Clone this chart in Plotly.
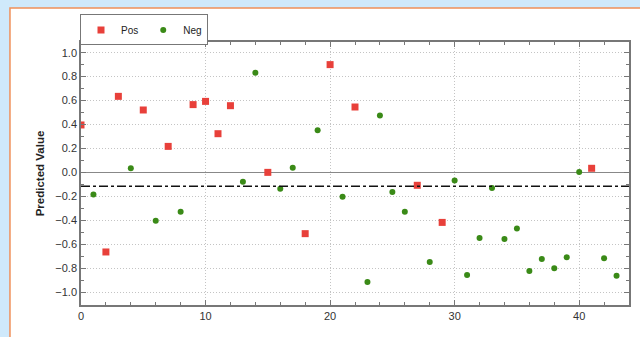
import plotly.graph_objects as go

# Data
pos_x = [0, 2, 3, 5, 7, 9, 10, 11, 12, 15, 18, 20, 22, 27, 29, 41]
pos_y = [0.396, -0.665, 0.635, 0.521, 0.217, 0.566, 0.593, 0.323, 0.557, 0.0, -0.512, 0.900, 0.546, -0.108, -0.418, 0.034]

neg_x = [1, 4, 6, 8, 13, 14, 16, 17, 19, 21, 23, 24, 25, 26, 28, 30, 31, 32, 33, 34, 35, 36, 37, 38, 39, 40, 42, 43]
neg_y = [-0.184, 0.034, -0.404, -0.328, -0.078, 0.833, -0.136, 0.039, 0.351, -0.203, -0.916, 0.476, -0.164, -0.328,
         -0.749, -0.069, -0.857, -0.548, -0.131, -0.557, -0.468, -0.824, -0.724, -0.802, -0.710, 0.003, -0.718, -0.863]

threshold = -0.115
x_range = [0, 44]
y_range = [-1.108, 1.089]

FONT = "Liberation Sans, Arial, sans-serif"

fig = go.Figure()
fig.add_trace(go.Scatter(x=pos_x, y=pos_y, mode="markers", name="Pos",
                         marker=dict(symbol="square", size=7, color="#e8403a")))
fig.add_trace(go.Scatter(x=neg_x, y=neg_y, mode="markers", name="Neg",
                         marker=dict(symbol="circle", size=6, color="#3a8a17")))

# white panel with orange border
fig.add_shape(type="rect", xref="paper", yref="paper", x0=-0.1296, x1=1.05, y0=-0.2, y1=1.129,
              fillcolor="white", line=dict(color="#f0905a", width=1.5), layer="below")
# threshold line
fig.add_shape(type="line", xref="paper", yref="y", x0=0, x1=1, y0=threshold, y1=threshold,
              line=dict(color="#111111", width=1.5, dash="dashdot"))

axis_common = dict(showline=True, linecolor="#777777", linewidth=1.5, automargin=False,
                   tickcolor="#777777", ticklen=5, tickwidth=1,
                   tickfont=dict(family=FONT, size=11, color="#333333"))

fig.update_layout(
    width=640, height=337,
    paper_bgcolor="#cfe9fb", plot_bgcolor="white",
    margin=dict(l=81, r=11, t=42, b=32, autoexpand=False),
    showlegend=True,
    legend=dict(orientation="h", xref="container", yref="container", x=0.125, y=0.957,
                xanchor="left", yanchor="top",
                bgcolor="white", bordercolor="#777777", borderwidth=1,
                font=dict(family=FONT, size=10, color="#222222"),
                itemwidth=30, tracegroupgap=0),
    xaxis=dict(range=x_range, tick0=0, dtick=10, ticks="inside", mirror="ticks",
               showgrid=True, gridcolor="#c4c4c4", griddash="1px,2px", gridwidth=1,
               zeroline=False,
               minor=dict(dtick=2, ticks="inside", ticklen=3, tickcolor="#777777", showgrid=False),
               **axis_common),
    xaxis2=dict(range=x_range, overlaying="x", side="bottom", anchor="y", tick0=0, dtick=10,
                ticks="outside", ticklen=5, tickcolor="#777777", showticklabels=False, automargin=False,
                showgrid=False, zeroline=False, showline=False,
                minor=dict(dtick=2, ticks="outside", ticklen=3, tickcolor="#777777")),
    yaxis=dict(range=y_range, tick0=0, dtick=0.2, tickformat=".1f", ticks="inside", mirror="ticks",
               showgrid=True, gridcolor="#c4c4c4", griddash="1px,2px", gridwidth=1,
               zeroline=True, zerolinecolor="#888888", zerolinewidth=1.2,
               minor=dict(dtick=0.1, ticks="inside", ticklen=3, tickcolor="#777777", showgrid=False),
               title=dict(text="<b>Predicted Value</b>", font=dict(family=FONT, size=11.5, color="#222222"),
                          standoff=8),
               **axis_common),
    yaxis2=dict(range=y_range, overlaying="y", side="left", anchor="x", tick0=0, dtick=0.2,
                ticks="outside", ticklen=5, tickcolor="#777777", showticklabels=False, automargin=False,
                showgrid=False, zeroline=False, showline=False,
                minor=dict(dtick=0.1, ticks="outside", ticklen=3, tickcolor="#777777")),
)

fig.write_html("out.html", config={"displayModeBar": False},
               post_script="document.body.style.margin='0';document.body.style.overflow='hidden';")
